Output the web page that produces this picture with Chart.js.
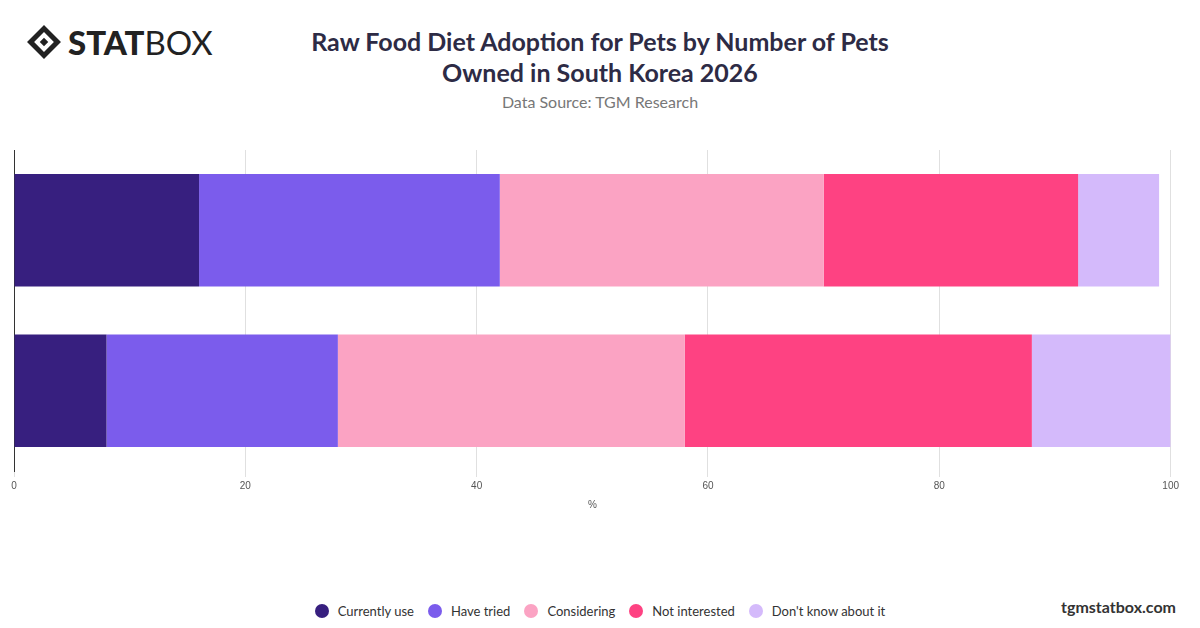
<!DOCTYPE html>
<html><head><meta charset="utf-8">
<script src="https://cdn.jsdelivr.net/npm/chart.js@4"></script>
<style>
body{margin:0;width:1200px;height:628px;background:#fff;font-family:Lato,"Open Sans",sans-serif;position:relative;overflow:hidden}
#logo{position:absolute;left:26px;top:22px;font-size:33px;color:#222;display:flex;align-items:center;letter-spacing:0px}
#logo .d{width:24px;height:24px;border:5px solid #222;transform:rotate(45deg);margin:0 12px 0 6px;box-sizing:border-box;position:relative}
#logo .d:after{content:"";position:absolute;left:4px;top:4px;width:6px;height:6px;background:#222}
#title{position:absolute;left:200px;width:800px;top:26px;text-align:center;font-size:25px;font-weight:bold;color:#2d2b45;line-height:31px}
#src{position:absolute;left:200px;width:800px;top:92px;text-align:center;font-size:16px;color:#777}
#wrap{position:absolute;left:0;top:140px;width:1182px;height:375px}
#legend{position:absolute;top:603px;left:0;width:1200px;text-align:center;font-size:13px;color:#333}
#legend span{display:inline-block;margin:0 7px}
#legend i{display:inline-block;width:14px;height:14px;border-radius:50%;vertical-align:-2px;margin-right:9px}
#brand{position:absolute;right:24px;top:597px;font-size:16px;font-weight:bold;color:#333}
</style></head><body>
<div id="logo"><div class="d"></div><b style="font-weight:900">STAT</b><span>BOX</span></div>
<div id="title">Raw Food Diet Adoption for Pets by Number of Pets<br>Owned in South Korea 2026</div>
<div id="src">Data Source: TGM Research</div>
<div id="wrap"><canvas id="c"></canvas></div>
<div id="legend"></div>
<div id="brand">tgmstatbox.com</div>
<script>
const categories=["Single pet","Multiple pets"];
const seriesNames=["Currently use","Have tried","Considering","Not interested","Don't know about it"];
const currentlyUse=[16,8];
const haveTried=[26,20];
const considering=[28,30];
const notInterested=[22,30];
const dontKnow=[7,12];
const colors=["#371f7f","#7b5cec","#fba3c3","#fe4282","#d4bafb"];
const vals=[currentlyUse,haveTried,considering,notInterested,dontKnow];
document.getElementById('legend').innerHTML=seriesNames.map((n,i)=>`<span><i style="background:${colors[i]}"></i>${n}</span>`).join('');
new Chart(document.getElementById('c'),{type:'bar',
data:{labels:categories,datasets:seriesNames.map((n,i)=>({label:n,data:vals[i],backgroundColor:colors[i],barPercentage:0.7,categoryPercentage:1}))},
options:{indexAxis:'y',responsive:true,maintainAspectRatio:false,animation:false,
layout:{padding:{left:6,right:0,top:10,bottom:0}},
plugins:{legend:{display:false},tooltip:{enabled:false}},
scales:{x:{stacked:true,min:0,max:100,ticks:{stepSize:20,font:{size:10},color:'#555'},grid:{color:'#e0e0e0',drawTicks:true,tickLength:6},border:{display:false},title:{display:true,text:'%',font:{size:10},color:'#555'}},
y:{stacked:true,ticks:{display:false},grid:{display:false},border:{color:'#333'}}}}});
</script></body></html>
